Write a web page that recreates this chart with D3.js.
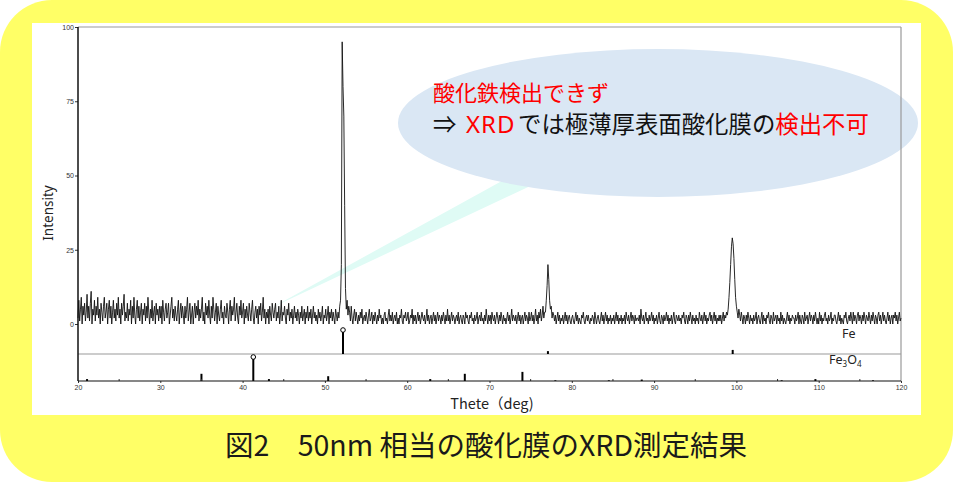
<!DOCTYPE html>
<html><head><meta charset="utf-8">
<script src="https://cdn.jsdelivr.net/npm/d3@7"></script>
<style>html,body{margin:0;padding:0;background:#fff;}svg{display:block;}</style>
</head><body>
<svg id="c" width="953" height="482"></svg>
<script>
// ---------- data ----------
const scanStart = 20;      // 2θ start (deg)
const scanStep = 0.1;      // 2θ step (deg)
const intensity = [
 2,8,1,5,9,0,6,3,7,1,
 4,10,2,6,1,7,11,0,5,3,
 8,1,6,3,9,2,5,0,7,4,
 1,6,9,2,4,7,0,5,8,2,
 6,0,4,8,2,5,1,7,3,9,
 2,5,0,7,3,6,10,1,4,2,
 7,1,5,3,8,0,6,2,9,3,
 0,5,8,2,6,1,4,7,0,5,
 3,7,1,6,2,9,4,0,5,2,
 8,1,4,6,0,7,3,5,1,6,
 2,6,0,8,4,1,5,7,2,4,
 7,0,3,6,9,2,5,1,6,3,
 1,5,8,0,4,7,2,6,3,0,
 6,2,5,9,1,4,7,0,3,6,
 0,4,7,2,6,3,8,1,5,2,
 5,9,1,4,0,7,3,6,2,8,
 3,0,6,2,9,5,1,4,7,0,
 6,3,1,5,8,2,4,0,6,3,
 2,7,4,0,5,8,1,6,3,5,
 9,1,4,7,2,0,6,3,8,2,
 4,7,0,5,2,6,3,1,7,4,
 1,5,8,2,0,4,6,2,5,0,
 6,3,7,1,4,9,2,5,0,4,
 2,5,0,6,3,1,7,4,2,5,
 7,1,4,2,6,0,3,8,1,4,
 3,6,2,0,5,3,7,1,4,2,
 5,0,3,6,2,4,1,5,3,0,
 4,2,6,1,3,5,0,4,2,6,
 1,4,2,5,0,3,6,2,4,1,
 3,0,5,2,4,1,3,6,0,3,
 2,5,1,3,6,0,4,2,5,1,
 4,2,0,5,3,1,4,2,6,8,
 20,95,80,70,40,12,5,8,3,6,
 4,1,6,2,0,3,5,1,4,2,
 0,3,1,4,2,5,0,2,3,1,
 4,2,0,3,5,1,2,4,0,3,
 1,4,2,0,3,1,5,2,3,0,
 2,0,3,4,1,2,0,3,5,1,
 3,1,4,0,2,3,1,4,0,2,
 0,3,2,5,1,0,3,2,4,1,
 2,4,0,1,3,2,5,0,3,1,
 3,0,2,4,1,3,0,2,4,2,
 1,3,0,2,5,1,3,0,2,3,
 0,2,4,1,3,0,2,4,1,3,
 2,0,3,1,4,2,0,3,1,5,
 1,3,0,2,4,1,3,2,0,2,
 3,1,4,0,2,3,1,0,3,2,
 0,4,2,3,1,0,3,2,4,1,
 2,0,3,1,2,4,0,2,3,1,
 4,1,2,0,3,1,5,2,0,3,
 1,3,0,4,2,1,3,0,2,4,
 2,0,3,1,4,2,0,3,1,2,
 0,2,4,1,3,0,2,5,1,3,
 2,1,3,0,2,4,1,3,0,2,
 3,0,2,4,1,3,2,0,4,1,
 2,4,1,3,0,2,5,1,3,0,
 4,2,5,1,3,6,2,4,4,8,
 13,20,15,8,5,6,2,4,3,1,
 3,0,2,4,1,3,0,2,1,3,
 0,2,4,1,3,0,2,3,1,0,
 2,3,1,0,2,4,1,3,0,2,
 1,0,3,2,4,1,0,2,3,1,
 3,1,0,2,1,3,2,0,4,2,
 0,2,3,1,0,2,4,1,3,0,
 2,4,1,3,0,2,1,3,0,2,
 1,3,0,2,4,1,3,0,2,1,
 3,0,2,1,3,0,4,2,1,3,
 0,2,4,1,3,2,0,3,1,2,
 2,1,3,0,5,2,1,3,0,2,
 4,1,2,0,3,1,2,4,1,3,
 0,2,1,3,0,2,4,1,0,3,
 2,0,3,1,2,4,1,3,0,2,
 1,3,0,2,4,1,0,3,2,1,
 3,1,2,0,3,2,4,1,0,3,
 2,0,3,1,4,2,0,3,1,2,
 0,3,1,2,0,4,2,1,3,0,
 2,4,1,3,0,2,1,3,4,1,
 3,0,2,4,1,3,0,2,1,3,
 1,3,0,2,4,1,3,2,4,3,
 5,9,14,20,26,29,27,22,15,9,
 6,4,2,5,3,1,4,2,0,3,
 2,0,3,1,4,2,0,3,1,2,
 0,3,1,2,4,0,2,3,1,0,
 2,4,0,3,1,2,0,3,2,4,
 1,0,3,2,0,4,1,2,3,0,
 3,1,2,0,4,1,3,0,2,1,
 0,2,4,1,3,0,2,1,3,2,
 2,0,3,1,2,4,0,3,1,0,
 3,2,0,4,1,2,3,0,2,4,
 1,3,2,0,3,1,4,2,0,2,
 0,4,1,3,0,2,1,3,4,1,
 2,0,3,1,2,4,0,2,1,3,
 3,1,0,2,4,1,3,0,2,1,
 0,3,2,4,1,0,2,3,1,4,
 2,0,4,1,3,2,0,3,4,1,
 3,2,0,3,1,4,2,0,3,2,
 1,4,2,0,3,1,4,2,0,3,
 2,0,3,4,1,3,0,2,4,1,
 3,1,0,2,4,1,3,0,2,3,
 0,3,2,4,1,3,0,2,4,1,
 2
];
// reference patterns (2θ, relative intensity %)
const fePos = [52.2, 77.1, 99.55];
const feInt = [100, 12, 17];
const fe3o4Pos = [21.1, 35.0, 41.3, 43.2, 50.4, 62.8, 67.0, 74.0, 78.0, 84.5, 88.5, 105.5, 109.6, 116.6];
const fe3o4Int = [8, 30, 100, 8, 20, 8, 30, 38, 3, 3, 6, 3, 8, 3];
const yTicks = [0, 25, 50, 75, 100];
const xTicks = [20, 30, 40, 50, 60, 70, 80, 90, 100, 110, 120];
const xMinor = [25, 35, 45, 55, 65, 75, 85, 95, 105, 115];

const svg = d3.select('#c');
// background
svg.append('rect').attr('x',0).attr('y',0).attr('width',953).attr('height',482).attr('fill','#fff');
svg.append('rect').attr('x',0).attr('y',0).attr('width',953).attr('height',482).attr('rx',52).attr('ry',52).attr('fill','#ffff66');
svg.append('rect').attr('x',32).attr('y',23).attr('width',889).attr('height',392).attr('fill','#fff');

const x = d3.scaleLinear().domain([20,120]).range([78,901]);
const y = d3.scaleLinear().domain([0,100]).range([324,27]);
const yFe = d3.scaleLinear().domain([0,100]).range([354,330]);
const yFo = d3.scaleLinear().domain([0,100]).range([381,357]);

// callout wedge + ellipse
svg.append('polygon').attr('points','273,307 540,160 560,172').attr('fill','#dffbf5');
svg.append('ellipse').attr('cx',658).attr('cy',123).attr('rx',260).attr('ry',74).attr('fill','#dae7f4');

// frame
svg.append('line').attr('x1',78).attr('x2',901).attr('y1',27).attr('y2',27).attr('stroke','#999').attr('stroke-width',1.2);
svg.append('line').attr('x1',901).attr('x2',901).attr('y1',27).attr('y2',381).attr('stroke','#999').attr('stroke-width',1.2);
svg.append('line').attr('x1',78).attr('x2',901).attr('y1',354).attr('y2',354).attr('stroke','#999').attr('stroke-width',1);

// data
const pts = intensity.map((v,i)=>[scanStart+i*scanStep, v]);
svg.append('path').datum(pts)
  .attr('d', d3.line().x(d=>x(d[0])).y(d=>y(d[1])))
  .attr('fill','none').attr('stroke','#111').attr('stroke-width',0.9);

// reference sticks
function sticks(pos, ints, ys){
  const g = svg.append('g');
  pos.forEach((p,i)=>{
    g.append('line').attr('x1',x(p)).attr('x2',x(p)).attr('y1',ys(0)).attr('y2',ys(ints[i]))
     .attr('stroke','#000').attr('stroke-width',2);
    if(ints[i]===100){
      g.append('circle').attr('cx',x(p)).attr('cy',ys(100)).attr('r',2.3)
       .attr('fill','#fff').attr('stroke','#000').attr('stroke-width',1);
    }
  });
}
sticks(fePos, feInt, yFe);
sticks(fe3o4Pos, fe3o4Int, yFo);

// axes
const ya = svg.append('g').attr('transform','translate(78,0)')
  .call(d3.axisLeft(y).tickValues(yTicks).tickSize(3).tickPadding(1));
ya.select('.domain').remove();
ya.selectAll('text').attr('font-family','Liberation Sans, Arial, sans-serif').attr('font-size',7).attr('fill','#333');
ya.selectAll('line').attr('stroke','#333');
svg.append('line').attr('x1',78).attr('x2',78).attr('y1',27).attr('y2',381).attr('stroke','#111').attr('stroke-width',1.5);

const xa = svg.append('g').attr('transform','translate(0,381)')
  .call(d3.axisBottom(x).tickValues(xTicks).tickSize(2).tickPadding(2));
xa.select('.domain').remove();
xa.selectAll('text').attr('font-family','Liberation Sans, Arial, sans-serif').attr('font-size',7).attr('fill','#333');
xa.selectAll('line').attr('stroke','#333');
svg.append('g').selectAll('line').data(xMinor).join('line')
  .attr('x1',d=>x(d)).attr('x2',d=>x(d)).attr('y1',379).attr('y2',381).attr('stroke','#333');
svg.append('line').attr('x1',78).attr('x2',901).attr('y1',381).attr('y2',381).attr('stroke','#111').attr('stroke-width',1.2);

// labels
svg.append('text').attr('transform','translate(53,213) rotate(-90)').attr('text-anchor','middle')
  .attr('font-family','Noto Sans, sans-serif').attr('font-size',13.5).attr('fill','#222').text('Intensity');
svg.append('text').attr('x',492).attr('y',409).attr('text-anchor','middle')
  .attr('font-family','Noto Sans CJK JP, Noto Sans, sans-serif').attr('font-size',14.5).attr('fill','#222').text('Thete（deg)');
svg.append('text').attr('x',842).attr('y',338).attr('font-family','Noto Sans, sans-serif').attr('font-size',12.5).attr('fill','#222').text('Fe');
const fo = svg.append('text').attr('x',829).attr('y',364).attr('font-family','Noto Sans, sans-serif').attr('font-size',12.5).attr('fill','#222');
fo.append('tspan').text('Fe');
fo.append('tspan').attr('font-size',8).attr('dy',3).text('3');
fo.append('tspan').attr('dy',-3).text('O');
fo.append('tspan').attr('font-size',8).attr('dy',3).text('4');

// callout text
const cjk = 'Noto Sans CJK JP, sans-serif';
svg.append('text').attr('x',433).attr('y',101).attr('font-family',cjk).attr('font-size',22).attr('fill','#ff0000').text('酸化鉄検出できず');
const l2 = svg.append('text').attr('x',433).attr('y',133).attr('font-family',cjk).attr('font-size',23.4).attr('fill','#111');
l2.append('tspan').text('⇒');
l2.append('tspan').attr('x',466).attr('fill','#ff0000').attr('font-size',24).attr('letter-spacing',1).attr('font-family','Noto Sans, sans-serif').text('XRD');
l2.append('tspan').attr('x',518).text('では極薄厚表面酸化膜の');
l2.append('tspan').attr('fill','#ff0000').text('検出不可');

// title
svg.append('text').attr('x',486).attr('y',456).attr('text-anchor','middle')
  .attr('font-family',cjk).attr('font-size',28.5).attr('fill','#1a1a1a').text('図2　50nm 相当の酸化膜のXRD測定結果');
</script>
</body></html>
